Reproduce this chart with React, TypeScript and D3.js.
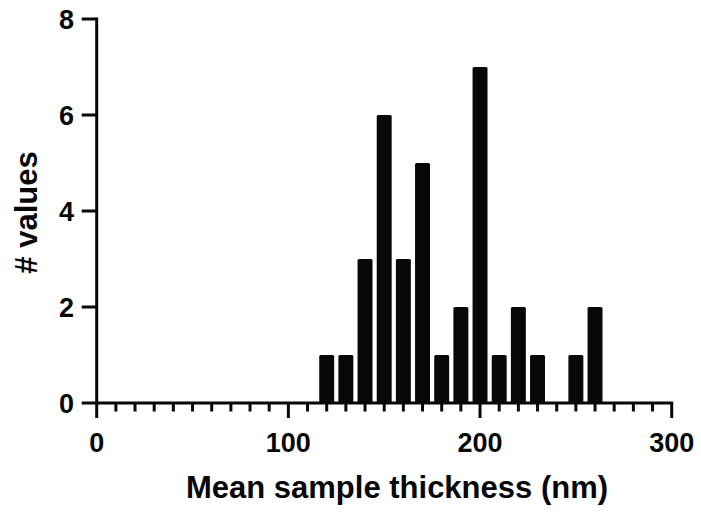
import React from "react";
import * as d3 from "d3";

const binCenters = [120, 130, 140, 150, 160, 170, 180, 190, 200, 210, 220, 230, 240, 250, 260];
const counts = [1, 1, 3, 6, 3, 5, 1, 2, 7, 1, 2, 1, 0, 1, 2];
const xMajorTicks = [0, 100, 200, 300];
const yTicks = [0, 2, 4, 6, 8];
const xTitle = "Mean sample thickness (nm)";
const yTitle = "# values";

export default function App() {
  const W = 701, H = 512;
  const x = d3.scaleLinear().domain([0, 300]).range([96.7, 671.7]);
  const y = d3.scaleLinear().domain([0, 8]).range([403, 19]);
  const minor = d3.range(0, 301, 10).filter((v) => v % 100 !== 0);
  const barW = x(7.8) - x(0);
  const font = "Liberation Sans, Arial, sans-serif";
  const col = "#080808";
  return (
    <svg width={W} height={H} style={{ position: "absolute", left: 0, top: 0 }}>
      <rect width={W} height={H} fill="#fff" />
      {binCenters.map((c, i) =>
        counts[i] > 0 ? (
          <rect
            key={c}
            x={x(c) - barW / 2}
            y={y(counts[i])}
            width={barW}
            height={y(0) - y(counts[i]) + 1}
            rx={1.5}
            fill={col}
          />
        ) : null
      )}
      {/* axes */}
      <line x1={x(0)} x2={x(300) + 1.5} y1={y(0)} y2={y(0)} stroke={col} strokeWidth={3} />
      <line x1={x(0)} x2={x(0)} y1={y(8) - 1.5} y2={y(0) + 1.5} stroke={col} strokeWidth={3} />
      {xMajorTicks.map((t) => (
        <g key={t}>
          <line x1={x(t)} x2={x(t)} y1={y(0)} y2={y(0) + 15} stroke={col} strokeWidth={3} />
          <text x={x(t)} y={452} textAnchor="middle" fontFamily={font} fontWeight="bold" fontSize={27} fill={col}>
            {t}
          </text>
        </g>
      ))}
      {minor.map((t) => (
        <line key={t} x1={x(t)} x2={x(t)} y1={y(0)} y2={y(0) + 8.5} stroke={col} strokeWidth={3} />
      ))}
      {yTicks.map((t) => (
        <g key={t}>
          <line x1={x(0) - 15} x2={x(0)} y1={y(t)} y2={y(t)} stroke={col} strokeWidth={3} />
          <text x={74} y={y(t) + 9.7} textAnchor="end" fontFamily={font} fontWeight="bold" fontSize={27} fill={col}>
            {t}
          </text>
        </g>
      ))}
      <text x={397} y={498} textAnchor="middle" fontFamily={font} fontWeight="bold" fontSize={31} fill={col}>
        {xTitle}
      </text>
      <text
        transform={`translate(37, 212.5) rotate(-90)`}
        textAnchor="middle"
        fontFamily={font}
        fontWeight="bold"
        fontSize={31}
        fill={col}
      >
        {yTitle}
      </text>
    </svg>
  );
}
